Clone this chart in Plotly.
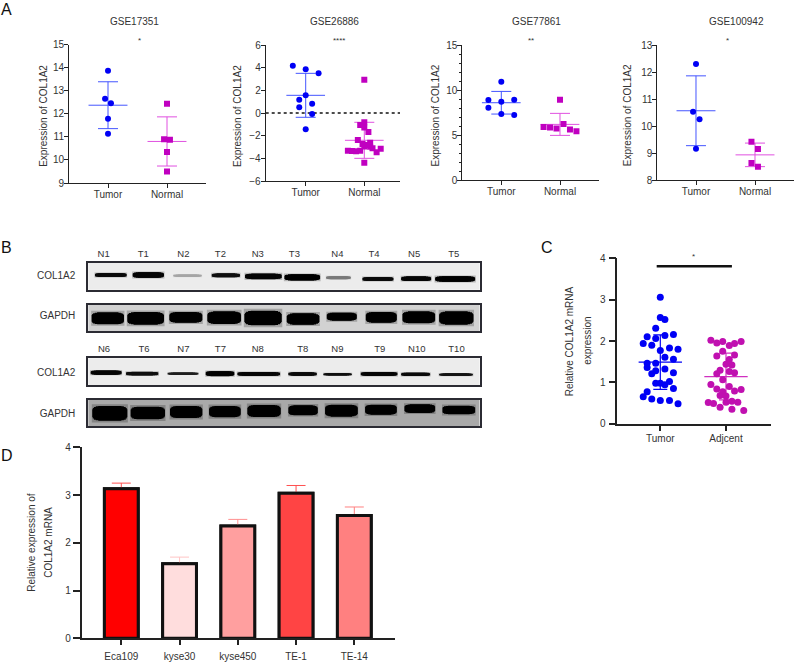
import plotly.graph_objects as go

W, H = 796, 662
FONT = "Liberation Sans"
TXT = "#333333"
BLUE, MAG = "#0000f5", "#c000c0"
BLUE_L, MAG_L = "#4455ff", "#e050e0"

# ---------- Panel A data ----------
a_titles = ["GSE17351", "GSE26886", "GSE77861", "GSE100942"]
a_stars = ["*", "****", "**", "*"]
a_groups = ["Tumor", "Normal"]

a1_t_off = [0, -0.05, 0.05, 0, 0]
a1_t_val = [13.86, 12.65, 12.46, 11.78, 11.13]
a1_n_off = [0, -0.05, 0.05, 0, 0]
a1_n_val = [12.43, 10.90, 10.87, 10.34, 9.50]

a2_t_off = [-0.22, 0, 0.22, 0, -0.11, 0.11, -0.11, 0.11, 0]
a2_t_val = [4.18, 3.85, 3.50, 1.56, 1.18, 0.82, 0.50, -0.09, -1.44]
a2_n_off = [0, 0, -0.07, 0, 0.07, -0.11, 0.10, -0.03, 0.03, 0.10, 0, 0.14, 0.28, -0.07, -0.28, -0.21, -0.14, 0.21, 0]
a2_n_val = [2.94, -0.82, -1.06, -1.29, -1.68, -2.38, -2.62, -2.74, -2.82, -2.97, -2.95, -3.12, -3.15, -3.32, -3.32, -3.35, -3.38, -3.47, -4.38]

a3_t_off = [0, -0.22, 0.22, 0, -0.22, 0, 0.22]
a3_t_val = [10.93, 8.90, 8.94, 8.72, 8.05, 7.35, 7.24]
a3_n_off = [0, 0.06, -0.28, -0.17, -0.06, 0.17, 0.28]
a3_n_val = [8.94, 6.24, 5.91, 5.84, 5.73, 5.62, 5.43]

a4_t_off = [0, -0.05, 0.06, 0]
a4_t_val = [12.30, 10.53, 10.26, 9.17]
a4_n_off = [-0.06, 0.05, -0.06, 0.05]
a4_n_val = [9.42, 9.16, 8.64, 8.50]

a_means = [(12.37, 10.80), (1.56, -2.41), (8.60, 6.20), (10.57, 8.94)]
a_sds = [(1.015, 1.065), (1.94, 1.59), (1.255, 1.22), (1.29, 0.435)]

# ---------- Panel B data (one row per membrane, positions along the membrane) ----------
lane_row1 = ["N1", "T1", "N2", "T2", "N3", "T3", "N4", "T4", "N5", "T5"]
lane_row2 = ["N6", "T6", "N7", "T7", "N8", "T8", "N9", "T9", "N10", "T10"]
lane_pos1 = [311, 430, 550, 661, 773, 883, 1012, 1122, 1242, 1361]
lane_pos2 = [312, 432, 550, 661, 773, 908, 1012, 1139, 1250, 1369]

b1_start = [285, 398, 520, 635, 735, 853, 978, 1087, 1203, 1305]
b1_end = [380, 492, 605, 720, 845, 960, 1052, 1180, 1293, 1425]
b1_y = [135, 135, 137, 136, 139, 142, 143, 147, 146, 147]
b1_t = [12, 17, 7, 12, 17, 19, 9, 12, 14, 17]
b1_g = [10, 5, 165, 15, 5, 0, 120, 10, 5, 0]

b2_start = [275, 382, 508, 622, 733, 860, 980, 1097, 1207, 1317]
b2_end = [372, 492, 607, 723, 845, 958, 1070, 1190, 1305, 1420]
b2_y = [265, 265, 262, 263, 264, 267, 260, 262, 262, 264]
b2_t = [36, 38, 32, 38, 44, 34, 24, 32, 36, 40]
b2_g = [0] * 10

b3_start = [272, 378, 503, 617, 712, 865, 970, 1082, 1203, 1317]
b3_end = [365, 475, 595, 703, 840, 950, 1055, 1192, 1290, 1418]
b3_y = [428, 431, 431, 431, 432, 432, 433, 432, 433, 434]
b3_t = [13, 11, 7, 15, 12, 11, 7, 12, 10, 8]
b3_g = [5, 15, 30, 0, 5, 10, 15, 5, 10, 20]

b4_start = [277, 392, 510, 627, 742, 865, 975, 1095, 1213, 1327]
b4_end = [382, 495, 607, 722, 842, 953, 1073, 1190, 1305, 1425]
b4_y = [550, 549, 546, 545, 543, 541, 542, 539, 536, 540]
b4_t = [44, 38, 36, 34, 36, 30, 36, 30, 26, 26]
b4_g = [0] * 10

# ---------- Panel C data ----------
c_groups = ["Tumor", "Adjcent"]
c_t_off = [0, 0, 0.07, -0.07, -0.2, -0.07, 0.07, 0.2, -0.26, -0.13, 0.14, 0.27, 0, 0.07, 0.2, -0.2, -0.07, -0.2, 0.07, -0.07, -0.13, 0.2, -0.07, 0, 0.07, 0.14, 0.2, -0.2, -0.26, -0.13, 0, 0.14, 0.27]
c_t_val = [3.06, 2.57, 2.52, 2.31, 2.10, 2.06, 2.13, 2.16, 1.94, 1.90, 1.83, 1.80, 1.77, 1.61, 1.56, 1.46, 1.46, 1.36, 1.32, 1.28, 1.21, 1.23, 0.98, 0.98, 0.94, 1.02, 0.85, 0.77, 0.65, 0.60, 0.56, 0.56, 0.48]
c_a_off = [-0.23, -0.14, -0.05, 0.05, 0.13, 0.23, -0.05, -0.14, 0.13, 0.05, 0, 0.09, -0.09, -0.14, 0.05, 0.13, -0.05, -0.23, 0.05, -0.14, 0.23, 0.13, -0.05, -0.09, 0, -0.27, -0.19, 0, 0.09, 0.18, -0.09, 0.09, 0.27]
c_a_val = [2.02, 1.95, 1.99, 1.89, 1.94, 1.99, 1.75, 1.64, 1.66, 1.55, 1.44, 1.42, 1.29, 1.21, 1.26, 1.23, 1.06, 0.95, 0.90, 0.84, 0.83, 0.79, 0.77, 0.68, 0.67, 0.51, 0.49, 0.52, 0.54, 0.52, 0.40, 0.35, 0.32]
c_means = (1.49, 1.14)
c_sds = (0.66, 0.565)
c_bar_ends = [0.945, 2.09]
c_bar_level = [3.81, 3.81]

# ---------- Panel D data ----------
d_cats = ["Eca109", "kyse30", "kyse450", "TE-1", "TE-14"]
d_vals = [3.13, 1.56, 2.35, 3.04, 2.57]
d_errs = [0.12, 0.14, 0.14, 0.16, 0.18]
d_fill = ["#ff0000", "#ffdddd", "#ff9f9f", "#ff4444", "#ff8080"]
d_errc = ["#ff5050", "#ffc4c4", "#ff9090", "#ff5050", "#ff8080"]

fig = go.Figure()
layout = {}
axis_no = [0]


def new_axes(px_l, px_r, py_t, py_b, xa, ya):
    axis_no[0] += 1
    n = axis_no[0]
    sx = "" if n == 1 else str(n)
    layout["xaxis" + sx] = dict(domain=[px_l / W, px_r / W], anchor="y" + sx, **xa)
    layout["yaxis" + sx] = dict(domain=[1 - py_b / H, 1 - py_t / H], anchor="x" + sx, **ya)
    return "x" + sx, "y" + sx


def label(text, px, py, size=10, angle=0, color=TXT):
    layout.setdefault("annotations", []).append(dict(
        text=text, x=px / W, y=1 - py / H, xref="paper", yref="paper", showarrow=False,
        xanchor="center", yanchor="middle", textangle=angle,
        font=dict(family=FONT, size=size, color=color)))


def axis_style(width=1, ticklen=4, standoff=0):
    return dict(showgrid=False, zeroline=False, showline=True, linecolor="#222222", linewidth=width,
                ticks="outside", ticklen=ticklen, tickwidth=width, tickcolor="#222222",
                ticklabelstandoff=standoff, tickfont=dict(family=FONT, size=10, color=TXT))


def scatter_group(xr, yr, centre, off, val, symbol, color, lcolor, mean, sd, size, half, cap, lw=1):
    fig.add_trace(go.Scatter(
        x=[centre], y=[mean], xaxis=xr, yaxis=yr, mode="markers",
        marker=dict(size=1, opacity=0, color=lcolor),
        error_y=dict(type="data", array=[sd], color=lcolor, thickness=lw, width=cap),
        error_x=dict(type="data", array=[half], color=lcolor, thickness=lw, width=0),
        showlegend=False, hoverinfo="skip"))
    fig.add_trace(go.Scatter(
        x=[centre + o for o in off], y=val, xaxis=xr, yaxis=yr, mode="markers",
        marker=dict(symbol=symbol, size=size, color=color, line=dict(width=0)),
        showlegend=False))


# Panel A
a_geom = [
    (69, 205.7, 108, 167, 44.5, 183, [9, 15], 1, None),
    (265.7, 400, 305.7, 364.3, 45, 181, [-6, 6], 2, None),
    (462.3, 599, 501.3, 560, 45, 180.3, [0, 15], 5, 1),
    (657.3, 794, 696, 755, 45, 180.3, [8, 13], 1, None),
]
a_points = [
    (a1_t_off, a1_t_val, a1_n_off, a1_n_val),
    (a2_t_off, a2_t_val, a2_n_off, a2_n_val),
    (a3_t_off, a3_t_val, a3_n_off, a3_n_val),
    (a4_t_off, a4_t_val, a4_n_off, a4_n_val),
]
a_title_x = [134, 334, 536.3, 736]
a_star_x = [139, 339.3, 531, 727.7]
a_ylab_x = [43.3, 237.5, 435, 627.7]
for i in range(4):
    l, r, c1, c2, t, b, yr, dt, mn = a_geom[i]
    u = c2 - c1
    xa = axis_style(1, 4, -2)
    xa.update(range=[1 - (c1 - l) / u, 2 + (r - c2) / u], tickvals=[1, 2], ticktext=a_groups)
    ya = axis_style(1, 4, -2)
    ya.update(range=yr, dtick=dt, tick0=0)
    if mn:
        ya["minor"] = dict(dtick=mn, ticks="outside", ticklen=2.5, tickwidth=1, tickcolor="#222222")
    xr, yr_ = new_axes(l, r, t, b, xa, ya)
    if i == 1:
        fig.add_trace(go.Scatter(x=xa["range"], y=[0, 0], xaxis=xr, yaxis=yr_, mode="lines",
                                 line=dict(color="#111111", width=1.5, dash="dot"),
                                 showlegend=False, hoverinfo="skip"))
    p = a_points[i]
    scatter_group(xr, yr_, 1, p[0], p[1], "circle", BLUE, BLUE_L, a_means[i][0], a_sds[i][0], 6, 0.33, 10)
    scatter_group(xr, yr_, 2, p[2], p[3], "square", MAG, MAG_L, a_means[i][1], a_sds[i][1], 6, 0.33, 10)
    label(a_titles[i], a_title_x[i], 21.7)
    label(a_stars[i], a_star_x[i], 41, size=8)
    label("Expression of COL1A2", a_ylab_x[i], 115.5, angle=-90)


# Panel B
def blot(t, b, zoom_t, zoom_b, bg, start, end, ys, th, gray, row_label, row_y, laneticks=None, lanelabels=None, lane_standoff=0):
    xa = dict(range=[265, 1438], showgrid=False, zeroline=False, showline=True, mirror=True,
              linecolor="#2b2b33", linewidth=2, ticks="", showticklabels=False)
    if laneticks:
        xa.update(side="top", tickvals=laneticks, ticktext=lanelabels, showticklabels=True,
                  ticklabelstandoff=lane_standoff, tickfont=dict(family=FONT, size=9.5, color=TXT))
    ya = dict(range=[zoom_b, zoom_t], showgrid=False, zeroline=False, showline=True, mirror=True,
              linecolor="#2b2b33", linewidth=2, ticks="", tickvals=[row_y], ticktext=[row_label],
              ticklabelstandoff=9, tickfont=dict(family=FONT, size=10, color=TXT))
    xr, yr = new_axes(88.3, 479.5, t, b, xa, ya)
    layout.setdefault("shapes", []).append(dict(
        type="rect", xref=xr + " domain", yref=yr + " domain", x0=0, x1=1, y0=0, y1=1,
        fillcolor=bg, line=dict(width=0), layer="below"))
    # each band: soft halo, then nested strokes giving a lens-shaped, dark band
    layers = [(1.03, 1.25, 0.22), (1.0, 0.55, 1), (0.97, 0.72, 1), (0.91, 0.86, 1), (0.8, 0.95, 1), (0.66, 1.0, 1)]
    for s, e, y, w, g in zip(start, end, ys, th, gray):
        mid, half = (s + e) / 2, (e - s) / 2
        for lf, wf, alpha in layers:
            fig.add_trace(go.Scatter(
                x=[mid - half * lf, mid + half * lf], y=[y, y], xaxis=xr, yaxis=yr, mode="lines",
                line=dict(color=f"rgba({g},{g},{g},{alpha})", width=w * wf / 3),
                showlegend=False, hoverinfo="skip"))


blot(262.7, 289.7, 98, 179, "#ececec", b1_start, b1_end, b1_y, b1_t, b1_g, "COL1A2", 137, lane_pos1, lane_row1)
blot(304.7, 331.3, 224, 304, "#d2d2d2", b2_start, b2_end, b2_y, b2_t, b2_g, "GAPDH", 256)
blot(358.3, 385.3, 385, 466, "#ececec", b3_start, b3_end, b3_y, b3_t, b3_g, "COL1A2", 429, lane_pos2, lane_row2, 1)
blot(400, 426, 510, 588, "#a9a9a9", b4_start, b4_end, b4_y, b4_t, b4_g, "GAPDH", 549)

# Panel C
cl, cr, c1, c2 = 617.3, 770.7, 660.3, 726
cu = c2 - c1
xa = axis_style(1.5, 6, -1)
xa.update(range=[1 - (c1 - cl) / cu, 2 + (cr - c2) / cu], tickvals=[1, 2], ticktext=c_groups)
ya = axis_style(1.5, 7, 1)
ya.update(range=[0, 4], dtick=1)
xr, yr_ = new_axes(cl, cr, 258.3, 423.7, xa, ya)
scatter_group(xr, yr_, 1, c_t_off, c_t_val, "circle", BLUE, BLUE, c_means[0], c_sds[0], 7, 0.33, 7, 1.2)
scatter_group(xr, yr_, 2, c_a_off, c_a_val, "circle", "#c010b0", "#d030c0", c_means[1], c_sds[1], 7, 0.33, 7, 1.2)
fig.add_trace(go.Scatter(x=c_bar_ends, y=c_bar_level, xaxis=xr, yaxis=yr_, mode="lines",
                         line=dict(color="#111111", width=2.5), showlegend=False, hoverinfo="skip"))
label("*", 693.7, 257, size=8)
label("Relative COL1A2 mRNA", 569.3, 341, angle=-90)
label("expression", 586.7, 341, angle=-90)

# Panel D
dl, dr, d1, du = 81.7, 395, 121.3, 58.25
xa = axis_style(2, 5, 3)
xa.update(range=[1 - (d1 - dl) / du, 5 + (dr - (d1 + 4 * du)) / du], tickvals=[1, 2, 3, 4, 5], ticktext=d_cats)
ya = axis_style(2, 7, 0)
ya.update(range=[0, 4], dtick=1)
xr, yr_ = new_axes(dl, dr, 447.3, 638.3, xa, ya)
for i in range(5):
    fig.add_trace(go.Bar(
        x=[i + 1], y=[d_vals[i]], xaxis=xr, yaxis=yr_, width=0.58,
        marker=dict(color=d_fill[i], line=dict(color="#111111", width=3)),
        error_y=dict(type="data", symmetric=False, array=[d_errs[i]], arrayminus=[0],
                     color=d_errc[i], thickness=1, width=9.5),
        showlegend=False))
    # same bar again, so its outline sits over the lower end of the whisker
    fig.add_trace(go.Bar(
        x=[i + 1], y=[d_vals[i]], xaxis=xr, yaxis=yr_, width=0.58,
        marker=dict(color=d_fill[i], line=dict(color="#111111", width=3)),
        showlegend=False, hoverinfo="skip"))
label("Relative expression of", 32, 542.8, angle=-90)
label("COL1A2 mRNA", 49, 542.8, angle=-90)

# Panel letters
label("A", 6.7, 9.5, size=16, color="#111111")
label("B", 6, 247.3, size=16, color="#111111")
label("C", 547.3, 247.3, size=16, color="#111111")
label("D", 6.5, 455.7, size=16, color="#111111")

fig.update_layout(width=W, height=H, margin=dict(l=0, r=0, t=0, b=0, autoexpand=False), paper_bgcolor="white",
                  plot_bgcolor="white", showlegend=False, barmode="overlay",
                  font=dict(family=FONT, color=TXT))
fig.update_layout(**layout)
fig.write_html("out.html", post_script="document.body.style.margin='0';", config={"displayModeBar": False})
